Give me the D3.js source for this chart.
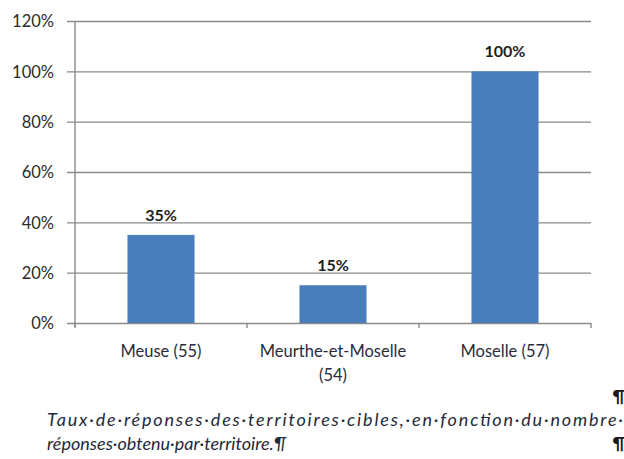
<!DOCTYPE html>
<html>
<head>
<meta charset="utf-8">
<script src="https://cdn.jsdelivr.net/npm/d3@7"></script>
<style>
  body { margin: 0; background: #fff; }
  svg { display: block; }
</style>
</head>
<body>
<div id="chart"></div>
<script>
// data
const categories = ["Meuse (55)", "Meurthe-et-Moselle (54)", "Moselle (57)"];
const values = [0.35, 0.15, 1.00];
const yTicks = [0, 0.2, 0.4, 0.6, 0.8, 1.0, 1.2];
const caption = [
  "Taux\u00b7de\u00b7réponses\u00b7des\u00b7territoires\u00b7cibles,\u00b7en\u00b7fonction\u00b7du\u00b7nombre\u00b7",
  "réponses\u00b7obtenu\u00b7par\u00b7territoire.\u00b6"
];

const width = 624, height = 459;
const font = "Lato, 'Open Sans', sans-serif";

const svg = d3.select("#chart").append("svg")
  .attr("width", width)
  .attr("height", height);

const x = d3.scaleBand()
  .domain(categories)
  .range([75, 591])
  .paddingInner(0.61)
  .paddingOuter(0.305);

const y = d3.scaleLinear()
  .domain([0, 1.2])
  .range([323, 21]);

// gridlines + y axis
const yAxis = d3.axisLeft(y)
  .tickValues(yTicks)
  .tickFormat(d3.format(".0%"))
  .tickSize(-(591 - 75))
  .tickSizeOuter(0);

const gy = svg.append("g")
  .attr("transform", "translate(75,0)")
  .call(yAxis);
gy.select(".domain").remove();
gy.selectAll(".tick line")
  .attr("x1", -8)
  .attr("stroke", "#8a8a8a")
  .attr("stroke-width", 1.4);
gy.selectAll(".tick text")
  .attr("x", -21)
  .attr("dy", "0.35em")
  .attr("fill", "#2b2b2b")
  .style("font-family", font)
  .style("font-size", "16.5px");

// vertical axis line
svg.append("line")
  .attr("x1", 75).attr("x2", 75)
  .attr("y1", y(1.2)).attr("y2", y(0) + 4)
  .attr("stroke", "#8a8a8a")
  .attr("stroke-width", 1.4);

// category ticks on the x axis
const bounds = [75].concat(categories.map(c => x(c) + x.bandwidth() / 2 + x.step() / 2));
svg.selectAll(".xtick")
  .data(bounds)
  .enter()
  .append("line")
  .attr("class", "xtick")
  .attr("x1", d => d).attr("x2", d => d)
  .attr("y1", y(0)).attr("y2", y(0) + 5)
  .attr("stroke", "#8a8a8a")
  .attr("stroke-width", 1.4);

// bars
svg.selectAll(".bar")
  .data(values)
  .enter()
  .append("rect")
  .attr("class", "bar")
  .attr("x", (d, i) => x(categories[i]))
  .attr("y", d => y(d))
  .attr("width", x.bandwidth())
  .attr("height", d => y(0) - y(d))
  .attr("fill", "#4a7ebb");

// data labels
svg.selectAll(".val")
  .data(values)
  .enter()
  .append("text")
  .attr("class", "val")
  .attr("x", (d, i) => x(categories[i]) + x.bandwidth() / 2)
  .attr("y", d => y(d) - 14)
  .attr("text-anchor", "middle")
  .attr("font-weight", "bold")
  .attr("fill", "#1e1e1e")
  .style("font-family", font)
  .style("font-size", "16px")
  .text(d => d3.format(".0%")(d));

// category labels (wrapped like Excel)
const catLines = {
  "Meuse (55)": ["Meuse (55)"],
  "Meurthe-et-Moselle (54)": ["Meurthe-et-Moselle", "(54)"],
  "Moselle (57)": ["Moselle (57)"]
};
categories.forEach(c => {
  const t = svg.append("text")
    .attr("x", x(c) + x.bandwidth() / 2)
    .attr("y", 357)
    .attr("text-anchor", "middle")
    .attr("fill", "#2b2b3a")
    .style("font-family", font)
    .style("font-size", "16.5px");
  catLines[c].forEach((line, i) => {
    t.append("tspan")
      .attr("x", x(c) + x.bandwidth() / 2)
      .attr("dy", i === 0 ? 0 : 24)
      .text(line);
  });
});

// pilcrows at right margin
[402, 449].forEach(py => {
  svg.append("text")
    .attr("x", 625)
    .attr("y", py)
    .attr("text-anchor", "end")
    .attr("fill", "#1a1a1a")
    .attr("font-weight", "bold")
    .style("font-family", font)
    .style("font-size", "17px")
    .text("\u00b6");
});

// caption (two lines, first one justified to the right margin)
caption.forEach((line, i) => {
  const t = svg.append("text")
    .attr("x", 47).attr("y", 426 + i * 24)
    .attr("fill", "#1f2a3a")
    .style("font-family", font)
    .style("font-style", "italic")
    .style("font-size", "18px")
    .text(line);
  if (i === 0) t.attr("textLength", 576).attr("lengthAdjust", "spacing");
});
</script>
</body>
</html>
